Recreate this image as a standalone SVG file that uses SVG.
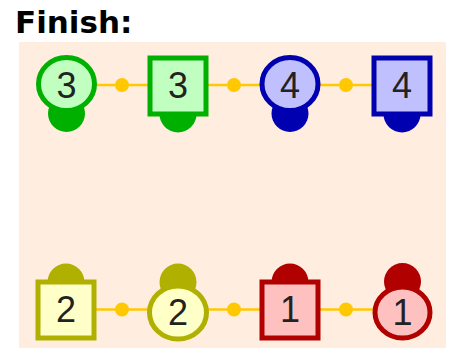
<svg xmlns="http://www.w3.org/2000/svg" width="451" height="348" viewBox="0 0 451 348">
<style>
.title{font-family:"DejaVu Sans",Verdana,sans-serif;font-weight:bold;font-size:31px;fill:#000}
.lbl{font-family:"Liberation Sans",Arial,sans-serif;font-size:36px;fill:#222;text-anchor:middle}
.g{fill:#C0FFC0;stroke:#00B000;stroke-width:5}
.gb{fill:#00B000}
.b{fill:#C0C0FF;stroke:#0000B0;stroke-width:5}
.bb{fill:#0000B0}
.y{fill:#FFFFC8;stroke:#B0B000;stroke-width:5}
.yb{fill:#B0B000}
.r{fill:#FFC0C0;stroke:#B00000;stroke-width:5}
.rb{fill:#B00000}
.wire{stroke:#FFC800;stroke-width:2.5;fill:none}
.dot{fill:#FFC800}
</style>
<text class="title" x="15" y="33">Finish:</text>
<rect x="19" y="42" width="427" height="306" fill="#FFEEDF"/>
<g id="connectors">
<line class="wire" x1="66" y1="85" x2="402" y2="85"/>
<circle class="dot" cx="122" cy="85" r="7"/>
<circle class="dot" cx="234" cy="85" r="7"/>
<circle class="dot" cx="346" cy="85" r="7"/>
<line class="wire" x1="66" y1="309.5" x2="402" y2="309.5"/>
<circle class="dot" cx="122" cy="309.5" r="7"/>
<circle class="dot" cx="234" cy="309.5" r="7"/>
<circle class="dot" cx="346" cy="309.5" r="7"/>
</g>
<g id="n-top-1">
<circle class="gb" cx="66.5" cy="113.5" r="18.5"/>
<ellipse class="g" cx="66.5" cy="84" rx="28" ry="26.5"/>
<text class="lbl" x="66.5" y="97.5">3</text>
</g>
<g id="n-top-2">
<circle class="gb" cx="178" cy="114" r="18.5"/>
<rect class="g" x="150" y="58" width="56" height="56"/>
<text class="lbl" x="178" y="98">3</text>
</g>
<g id="n-top-3">
<circle class="bb" cx="290" cy="113.5" r="18.5"/>
<ellipse class="b" cx="290" cy="84" rx="28" ry="26.5"/>
<text class="lbl" x="290" y="97.5">4</text>
</g>
<g id="n-top-4">
<circle class="bb" cx="402" cy="114" r="18.5"/>
<rect class="b" x="374" y="58" width="56" height="56"/>
<text class="lbl" x="402" y="98">4</text>
</g>
<g id="n-bot-1">
<circle class="yb" cx="66" cy="282" r="18.5"/>
<rect class="y" x="38" y="282" width="56" height="56"/>
<text class="lbl" x="66" y="321.5">2</text>
</g>
<g id="n-bot-2">
<circle class="yb" cx="178" cy="282" r="18.5"/>
<ellipse class="y" cx="178" cy="312.5" rx="28.5" ry="26.5"/>
<text class="lbl" x="178" y="325">2</text>
</g>
<g id="n-bot-3">
<circle class="rb" cx="290" cy="282" r="18.5"/>
<rect class="r" x="262" y="282" width="56" height="56"/>
<text class="lbl" x="290" y="321.5">1</text>
</g>
<g id="n-bot-4">
<circle class="rb" cx="402.5" cy="281.5" r="18.5"/>
<ellipse class="r" cx="402.5" cy="312.5" rx="27.5" ry="25.5"/>
<text class="lbl" x="402.5" y="325">1</text>
</g>
</svg>
